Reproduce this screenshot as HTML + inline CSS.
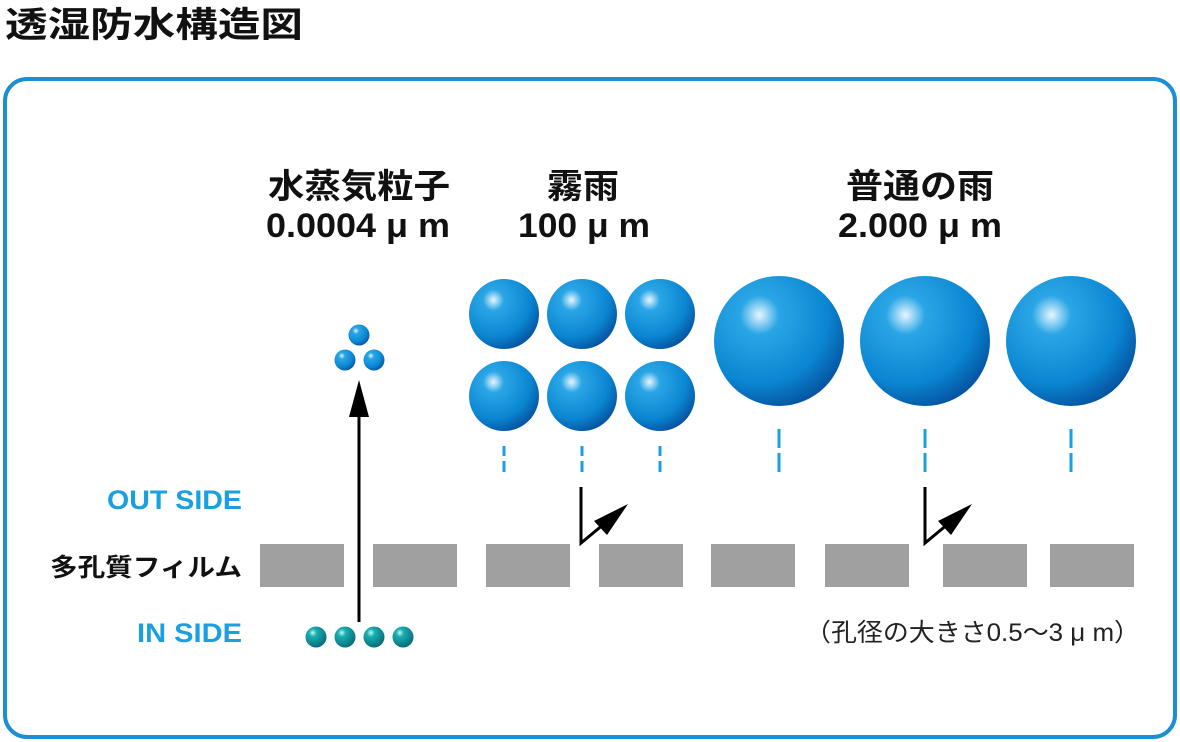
<!DOCTYPE html>
<html><head><meta charset="utf-8"><style>
body{margin:0;width:1180px;height:742px;background:#fff;overflow:hidden;font-family:"Liberation Sans","Noto Sans CJK JP",sans-serif;}
</style></head><body>
<svg width="1180" height="742" xmlns="http://www.w3.org/2000/svg" style="position:absolute;left:0;top:0">
<defs>
<radialGradient id="b" cx="0.35" cy="0.3" r="0.75">
<stop offset="0" stop-color="#e8f6ff"/><stop offset="0.2" stop-color="#2aa6e6"/><stop offset="0.7" stop-color="#0a86d2"/><stop offset="1" stop-color="#0552a0"/>
</radialGradient>
<radialGradient id="t" cx="0.35" cy="0.3" r="0.75">
<stop offset="0" stop-color="#c8f4f4"/><stop offset="0.25" stop-color="#1aaeb0"/><stop offset="1" stop-color="#056a78"/>
</radialGradient>
</defs>
<text x="5" y="37" font-size="35" font-weight="bold" fill="#111" textLength="298" lengthAdjust="spacingAndGlyphs" font-family="Liberation Sans,Noto Sans CJK JP,sans-serif">透湿防水構造図</text>
<rect x="5" y="79" width="1170" height="658" rx="22" fill="none" stroke="#1a8fd4" stroke-width="4"/>
<g font-family="Liberation Sans,Noto Sans CJK JP,sans-serif" font-weight="bold" font-size="34" fill="#111">
<text x="268" y="198" textLength="182" lengthAdjust="spacingAndGlyphs">水蒸気粒子</text><text x="266" y="237" textLength="184" lengthAdjust="spacingAndGlyphs">0.0004 μ m</text>
<text x="547" y="198" textLength="72" lengthAdjust="spacingAndGlyphs">霧雨</text><text x="518" y="237" textLength="132" lengthAdjust="spacingAndGlyphs">100 μ m</text>
<text x="846" y="198" textLength="148" lengthAdjust="spacingAndGlyphs">普通の雨</text><text x="838" y="237" textLength="164" lengthAdjust="spacingAndGlyphs">2.000 μ m</text>
</g>
<g font-family="Liberation Sans,Noto Sans CJK JP,sans-serif" font-weight="bold">
<text x="107" y="509" font-size="27" fill="#1aa0e0" textLength="135" lengthAdjust="spacingAndGlyphs">OUT SIDE</text>
<text x="50" y="576" font-size="25" fill="#111" textLength="192" lengthAdjust="spacingAndGlyphs">多孔質フィルム</text>
<text x="137" y="642" font-size="27" fill="#1aa0e0" textLength="105" lengthAdjust="spacingAndGlyphs">IN SIDE</text>
</g>
<text x="805" y="641" font-size="25" fill="#222" textLength="335" lengthAdjust="spacingAndGlyphs" font-family="Liberation Sans,Noto Sans CJK JP,sans-serif">（孔径の大きさ0.5～3 μ m）</text>
<g fill="#a0a0a0">
<rect x="260" y="544" width="84" height="43"/><rect x="373" y="544" width="84" height="43"/>
<rect x="486" y="544" width="84" height="43"/><rect x="599" y="544" width="84" height="43"/>
<rect x="711" y="544" width="84" height="43"/><rect x="825" y="544" width="84" height="43"/>
<rect x="943" y="544" width="84" height="43"/><rect x="1050" y="544" width="84" height="43"/>
</g>
<line x1="359" y1="622" x2="359" y2="410" stroke="#000" stroke-width="3"/>
<polygon points="359,380 349,417 369,417" fill="#000"/>
<circle cx="359" cy="335" r="10.5" fill="url(#b)"/><circle cx="345" cy="360" r="10.5" fill="url(#b)"/><circle cx="374" cy="360" r="10.5" fill="url(#b)"/>
<circle cx="316" cy="637" r="10.5" fill="url(#t)"/><circle cx="345" cy="637" r="10.5" fill="url(#t)"/><circle cx="374" cy="637" r="10.5" fill="url(#t)"/><circle cx="403" cy="637" r="10.5" fill="url(#t)"/>
<g fill="url(#b)">
<circle cx="504" cy="314" r="35"/><circle cx="582" cy="314" r="35"/><circle cx="660" cy="314" r="35"/>
<circle cx="504" cy="396" r="35"/><circle cx="582" cy="396" r="35"/><circle cx="660" cy="396" r="35"/>
<circle cx="779" cy="341" r="65"/><circle cx="925" cy="341" r="65"/><circle cx="1071" cy="341" r="65"/>
</g>
<g stroke="#1aa0e0" stroke-width="3">
<line x1="504" y1="446" x2="504" y2="456"/><line x1="504" y1="461" x2="504" y2="472"/>
<line x1="582" y1="446" x2="582" y2="456"/><line x1="582" y1="461" x2="582" y2="472"/>
<line x1="660" y1="446" x2="660" y2="456"/><line x1="660" y1="461" x2="660" y2="472"/>
<line x1="779" y1="429" x2="779" y2="448"/><line x1="779" y1="453" x2="779" y2="472"/>
<line x1="925" y1="429" x2="925" y2="448"/><line x1="925" y1="453" x2="925" y2="472"/>
<line x1="1071" y1="429" x2="1071" y2="448"/><line x1="1071" y1="453" x2="1071" y2="472"/>
</g>
<g stroke="#000" stroke-width="3" fill="none">
<polyline points="581,487 581,543 610,519"/><polyline points="925,487 925,543 954,519"/>
</g>
<polygon points="628,504 594,521 607,535" fill="#000"/>
<polygon points="972,504 938,521 951,535" fill="#000"/>
</svg>
</body></html>
